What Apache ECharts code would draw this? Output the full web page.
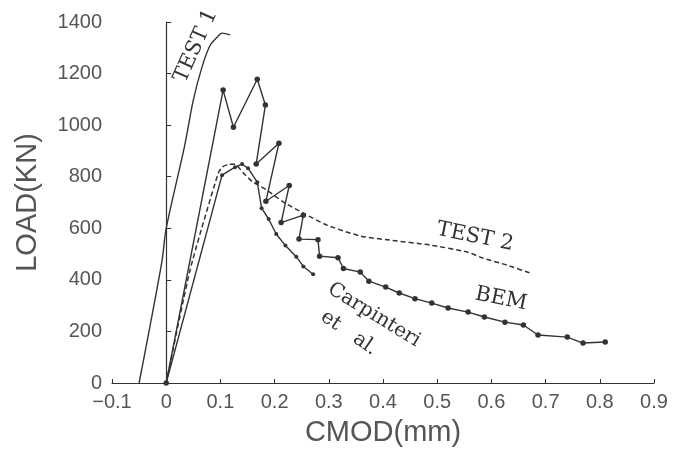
<!DOCTYPE html>
<html>
<head>
<meta charset="utf-8">
<script src="https://cdn.jsdelivr.net/npm/echarts@6/dist/echarts.min.js"></script>
<style>
  html, body { margin: 0; padding: 0; background: #fff; }
  #main { width: 673px; height: 450px; }
</style>
</head>
<body>
<div id="main"></div>
<script>
// CMOD (mm) against LOAD (kN)
var test1X = [-0.05, -0.008, 0, 0.034, 0.05, 0.066, 0.081, 0.094, 0.103, 0.118];
var test1Y = [0, 470, 600, 920, 1097, 1225, 1310, 1341, 1357, 1350];

var test2X = [0, 0.044, 0.096, 0.104, 0.115, 0.127, 0.142, 0.16, 0.186, 0.216, 0.253, 0.297, 0.358, 0.413, 0.487, 0.555, 0.585, 0.629, 0.672];
var test2Y = [0, 438, 814, 838, 848, 848, 815, 779, 748, 702, 659, 612, 570, 554, 535, 508, 484, 457, 426];

var bemX = [0, 0.105, 0.124, 0.168, 0.183, 0.166, 0.208, 0.184, 0.227, 0.212, 0.253, 0.245, 0.28, 0.283, 0.317, 0.327, 0.358, 0.374, 0.405, 0.43, 0.459, 0.49, 0.52, 0.557, 0.587, 0.625, 0.659, 0.686, 0.74, 0.769, 0.81];
var bemY = [0, 1136, 992, 1178, 1078, 849, 930, 705, 766, 622, 651, 558, 556, 492, 486, 444, 430, 395, 372, 349, 327, 310, 291, 275, 256, 236, 225, 186, 178, 155, 159];

var carpX = [0, 0.103, 0.127, 0.14, 0.151, 0.168, 0.176, 0.189, 0.203, 0.22, 0.24, 0.253, 0.271];
var carpY = [0, 806, 837, 849, 833, 779, 678, 636, 578, 533, 490, 452, 422];

var xTicks = [-0.1, 0, 0.1, 0.2, 0.3, 0.4, 0.5, 0.6, 0.7, 0.8, 0.9];
var yTicks = [0, 200, 400, 600, 800, 1000, 1200, 1400];

function pairs(xs, ys) {
    return xs.map(function (x, i) { return [x, ys[i]]; });
}

var ink = '#333';
var textCol = '#555';
var noteFont = '"DejaVu Serif", serif';

var chart = echarts.init(document.getElementById('main'));
var option = {
    animation: false,
    backgroundColor: '#fff',
    grid: { left: 112, right: 19, top: 22, bottom: 67, containLabel: false, outerBoundsMode: 'none' },
    xAxis: {
        type: 'value',
        min: xTicks[0],
        max: xTicks[xTicks.length - 1],
        interval: 0.1,
        name: 'CMOD(mm)',
        nameLocation: 'middle',
        nameGap: 35,
        nameTextStyle: { fontFamily: 'Liberation Sans', fontSize: 29, color: textCol },
        axisLine: { lineStyle: { color: ink, width: 1.2 } },
        axisTick: { inside: true, length: 4, lineStyle: { color: ink } },
        axisLabel: {
            margin: 9,
            fontFamily: 'Liberation Sans',
            fontSize: 20,
            color: textCol,
            formatter: function (v) {
                var s = (Math.round(v * 10) / 10).toString();
                return s.replace('-', '\u2212');
            }
        },
        splitLine: { show: false }
    },
    yAxis: {
        type: 'value',
        min: yTicks[0],
        max: yTicks[yTicks.length - 1],
        interval: 200,
        name: 'LOAD(KN)',
        nameLocation: 'middle',
        nameGap: 70,
        nameTextStyle: { fontFamily: 'Liberation Sans', fontSize: 29, color: textCol },
        axisLine: { show: true, onZero: true, lineStyle: { color: ink, width: 1.2 } },
        axisTick: { show: true, inside: true, length: 5, lineStyle: { color: ink } },
        axisLabel: {
            margin: 10,
            fontFamily: 'Liberation Sans',
            fontSize: 20,
            color: textCol,
            formatter: function (v) { return String(v); }
        },
        splitLine: { show: false }
    },
    series: [
        {
            name: 'TEST 1',
            type: 'line',
            data: pairs(test1X, test1Y),
            symbol: 'none',
            smooth: 0.3,
            lineStyle: { color: ink, width: 1.4 }
        },
        {
            name: 'TEST 2',
            type: 'line',
            data: pairs(test2X, test2Y),
            symbol: 'none',
            smooth: 0.2,
            lineStyle: { color: ink, width: 1.5, type: [5, 3] }
        },
        {
            name: 'BEM',
            type: 'line',
            data: pairs(bemX, bemY),
            symbol: 'circle',
            symbolSize: 5.5,
            itemStyle: { color: ink },
            lineStyle: { color: ink, width: 1.4 }
        },
        {
            name: 'Carpinteri et al.',
            type: 'line',
            data: pairs(carpX, carpY),
            symbol: 'circle',
            symbolSize: 4,
            itemStyle: { color: ink },
            lineStyle: { color: ink, width: 1.4 }
        }
    ],
    graphic: [
        { type: 'text', x: 196, y: 46, rotation: 1.15, style: { text: 'TEST 1', font: '21px ' + noteFont, fill: ink, align: 'center', verticalAlign: 'middle' } },
        { type: 'text', x: 475, y: 237, rotation: -0.2, style: { text: 'TEST 2', font: '21px ' + noteFont, fill: ink, align: 'center', verticalAlign: 'middle' } },
        { type: 'text', x: 501, y: 299, rotation: -0.2, style: { text: 'BEM', font: '21px ' + noteFont, fill: ink, align: 'center', verticalAlign: 'middle' } },
        { type: 'text', x: 374, y: 315, rotation: -0.55, style: { text: 'Carpinteri', font: '20px ' + noteFont, fill: ink, align: 'center', verticalAlign: 'middle' } },
        { type: 'text', x: 349, y: 333, rotation: -0.6, style: { text: 'et   al.', font: '20px ' + noteFont, fill: ink, align: 'center', verticalAlign: 'middle' } }
    ]
};

option && chart.setOption(option);
window.addEventListener('resize', function () { chart.resize(); });
</script>
</body>
</html>
